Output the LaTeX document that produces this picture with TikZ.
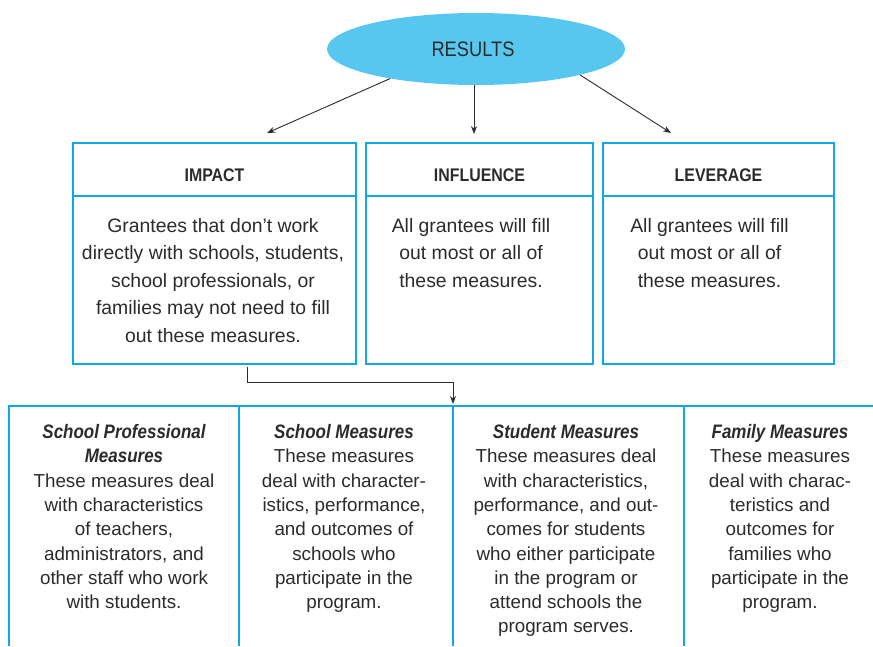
\documentclass[tikz,border=0pt]{standalone}
\usepackage{fontspec}
\setmainfont{Liberation Sans}
\newfontfamily\narrowfont{Liberation Sans}[FakeStretch=0.87]
\usetikzlibrary{shapes.geometric,arrows.meta,calc}
\definecolor{boxblue}{RGB}{16,168,228}
\definecolor{ovalblue}{RGB}{87,199,240}
\definecolor{ink}{RGB}{45,42,43}
\newcommand\colhead{\narrowfont\bfseries\itshape\fontsize{19.5}{24.3}\selectfont}
\newcommand\colbody{\normalfont\fontsize{18.8}{24.3}\selectfont}
\tikzset{
  hdr/.style={draw=boxblue, line width=2.5pt, inner sep=0pt, outer sep=0pt,
    anchor=north, text height=38.5pt, text depth=14.5pt, text=ink,
    font=\narrowfont\bfseries\fontsize{18.3}{22}\selectfont},
  bodybox/.style={draw=boxblue, line width=2.5pt, inner sep=0pt, outer sep=0pt,
    anchor=north, minimum height=168pt},
  bodytext/.style={anchor=north, inner sep=0pt, align=center, text=ink,
    font=\fontsize{19.4}{27.5}\selectfont},
  colcell/.style={inner sep=0pt, outer sep=0pt, minimum height=240pt},
  colline/.style={draw=boxblue, line width=2.5pt},
  coltext/.style={anchor=north, inner sep=0pt, align=center, text=ink,
    font=\colbody},
  arr/.style={-{Stealth[length=8pt,width=6pt]}, line width=0.9pt, draw=ink},
}
\begin{document}
\begin{tikzpicture}[x=1pt,y=-1pt]
\useasboundingbox (0,0) rectangle (873,646);

% top oval
\node[ellipse, fill=ovalblue, minimum width=298pt, minimum height=72pt,
  inner sep=0pt, text=ink, font=\narrowfont\fontsize{21}{25}\selectfont]
  (results) at (476,49) {RESULTS\hspace*{6pt}};

% three result boxes: header + body
\node[hdr, minimum width=283pt] (impact) at (214.5,143) {IMPACT};
\node[bodybox, minimum width=283pt] (impactb) at (impact.south) {};
\node[hdr, minimum width=227pt] (influence) at (479.5,143) {INFLUENCE};
\node[bodybox, minimum width=227pt] (influenceb) at (influence.south) {};
\node[hdr, minimum width=231pt] (leverage) at (718.5,143) {LEVERAGE};
\node[bodybox, minimum width=231pt] (leverageb) at (leverage.south) {};

\node[bodytext] (impactt) at (213,217) {\rule{0pt}{15pt}Grantees that don’t work\\directly with schools, students,\\school professionals, or\\families may not need to fill\\out these measures.};
\node[bodytext] (influencet) at (471,217) {\rule{0pt}{15pt}All grantees will fill\\out most or all of\\these measures.};
\node[bodytext] (leveraget) at (709.5,217) {\rule{0pt}{15pt}All grantees will fill\\out most or all of\\these measures.};

% arrows from the oval
\coordinate (impactin) at (267,133);
\coordinate (influencein) at (474,134);
\coordinate (leveragein) at (671,133);
\draw[arr] (results.199) -- (impactin);
\draw[arr] (results.south -| influencein) -- (influencein);
\draw[arr] (results.346) -- (leveragein);

% measure columns
\node[colcell, minimum width=230pt] (spm) at (124,526) {};
\node[colcell, minimum width=214pt] (sm) at (346,526) {};
\node[colcell, minimum width=231pt] (stm) at (568.5,526) {};
\node[colcell, minimum width=189pt] (fam) at (778.5,526) {};
\draw[colline] (spm.south west) -- (spm.north west) -- (fam.north east);
\draw[colline] (sm.north west) -- (sm.south west);
\draw[colline] (stm.north west) -- (stm.south west);
\draw[colline] (fam.north west) -- (fam.south west);

% connector from IMPACT down to the columns
\draw[arr, shorten >=2pt] ($(impactb.south)+(32.5,3)$) -- ++(0,15) -| (stm.north west);

\node[coltext] (spmt) at (124,423.3) {\rule{0pt}{15pt}\colhead School Professional\\\colhead Measures\\These measures deal\\with characteristics\\of teachers,\\administrators, and\\other staff who work\\with students.};
\node[coltext] (smt) at (344,423.3) {\rule{0pt}{15pt}\colhead School Measures\\These measures\\deal with character-\\istics, performance,\\and outcomes of\\schools who\\participate in the\\program.};
\node[coltext] (stmt) at (566,423.3) {\rule{0pt}{15pt}\colhead Student Measures\\These measures deal\\with characteristics,\\performance, and out-\\comes for students\\who either participate\\in the program or\\attend schools the\\program serves.};
\node[coltext] (famt) at (780,423.3) {\rule{0pt}{15pt}\colhead Family Measures\\These measures\\deal with charac-\\teristics and\\outcomes for\\families who\\participate in the\\program.};
\end{tikzpicture}
\end{document}
